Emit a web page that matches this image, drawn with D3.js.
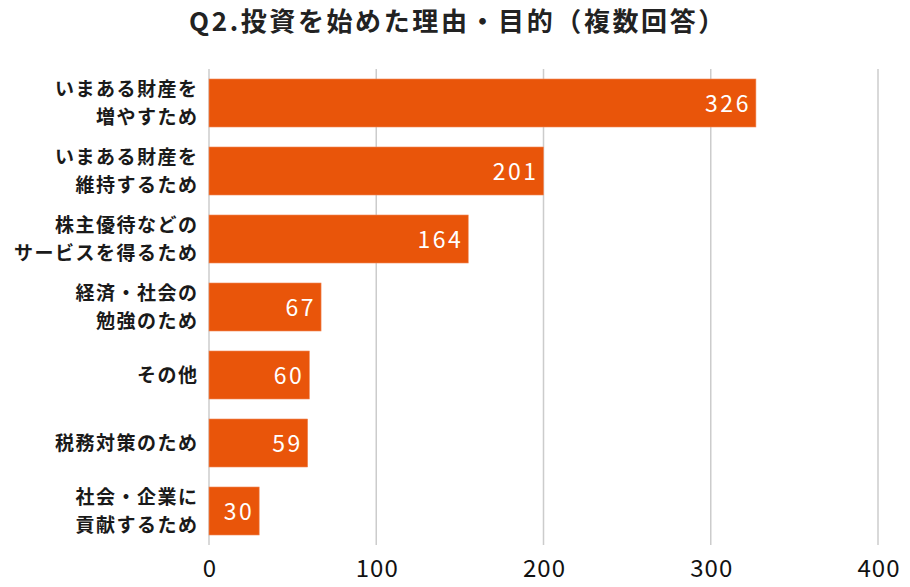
<!DOCTYPE html>
<html><head><meta charset="utf-8">
<script src="https://cdn.jsdelivr.net/npm/d3@7/dist/d3.min.js"></script>
<style>body{margin:0;background:#fff}svg{display:block}text{font-family:"Noto Sans CJK JP","Noto Sans",sans-serif}</style>
</head><body>
<script>
const categories = [
  ["いまある財産を","増やすため"],
  ["いまある財産を","維持するため"],
  ["株主優待などの","サービスを得るため"],
  ["経済・社会の","勉強のため"],
  ["その他"],
  ["税務対策のため"],
  ["社会・企業に","貢献するため"]
];
// bar lengths as drawn in the picture
const barValues = [327, 200, 155, 67, 60, 59, 30];
// numbers printed on the bars
const valueLabels = ["326", "201", "164", "67", "60", "59", "30"];
const tickValues = [0, 100, 200, 300, 400];
const title = "Q2.投資を始めた理由・目的（複数回答）";

const W = 910, H = 587;
const svg = d3.select("body").append("svg").attr("width", W).attr("height", H);
const x = d3.scaleLinear().domain([0, 400]).range([209, 878]);
const y = d3.scaleBand().domain(d3.range(barValues.length)).range([69, 545]).paddingInner(0.294).paddingOuter(0.147);

svg.append("text").attr("x", 458).attr("y", 31).attr("text-anchor", "middle")
  .attr("font-size", 26).attr("font-weight", 700).attr("letter-spacing", 2.6).attr("fill", "#222").text(title);

svg.append("g").selectAll("line").data(tickValues).join("line")
  .attr("x1", d => x(d)).attr("x2", d => x(d)).attr("y1", 69).attr("y2", 545)
  .attr("stroke", "#cccccc").attr("stroke-width", 1.5);

svg.append("g").selectAll("text").data(tickValues).join("text")
  .attr("x", d => x(d) + 1).attr("y", 577).attr("text-anchor", "middle")
  .attr("font-size", 24).attr("letter-spacing", 1).attr("fill", "#111").text(d => d);

svg.append("g").selectAll("rect").data(barValues).join("rect")
  .attr("x", x(0)).attr("y", (d, i) => y(i)).attr("width", d => x(d) - x(0)).attr("height", y.bandwidth())
  .attr("fill", "#e9550a").attr("stroke", "#f08a5a").attr("stroke-width", 0.6);

svg.append("g").selectAll("text").data(barValues).join("text")
  .attr("x", d => x(d) - 5).attr("y", (d, i) => y(i) + y.bandwidth() / 2 + 9)
  .attr("text-anchor", "end").attr("font-size", 23).attr("letter-spacing", 2.5)
  .attr("font-weight", 400).attr("fill", "#fff").text((d, i) => valueLabels[i]);

const lab = svg.append("g").selectAll("text").data(categories).join("text")
  .attr("text-anchor", "end").attr("font-size", 19).attr("font-weight", 600).attr("fill", "#1a1a1a")
  .attr("letter-spacing", 1.5);
lab.each(function(lines, i) {
  const cy = y(i) + y.bandwidth() / 2;
  const lh = 28;
  const start = cy - (lines.length - 1) * lh / 2 + 7;
  d3.select(this).selectAll("tspan").data(lines).join("tspan")
    .attr("x", 198.5).attr("y", (d, j) => start + j * lh).text(d => d);
});
</script>
</body></html>
